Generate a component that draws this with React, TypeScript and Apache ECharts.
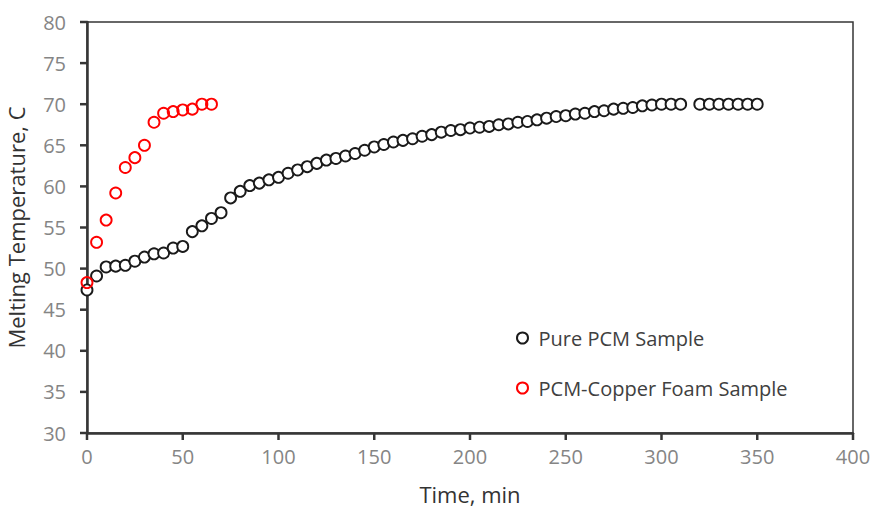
import React, { useEffect, useRef } from "react";
import * as echarts from "echarts";

const pureTimes = [
  0, 5, 10, 15, 20, 25, 30, 35, 40, 45, 50, 55, 60, 65, 70, 75, 80, 85, 90, 95,
  100, 105, 110, 115, 120, 125, 130, 135, 140, 145, 150, 155, 160, 165, 170, 175,
  180, 185, 190, 195, 200, 205, 210, 215, 220, 225, 230, 235, 240, 245, 250, 255,
  260, 265, 270, 275, 280, 285, 290, 295, 300, 305, 310, 320, 325, 330, 335, 340,
  345, 350,
];
const pureTemps = [
  47.4, 49.1, 50.2, 50.3, 50.4, 50.9, 51.4, 51.8, 51.9, 52.5, 52.7, 54.5, 55.2,
  56.1, 56.8, 58.6, 59.4, 60.1, 60.4, 60.8, 61.1, 61.6, 62.0, 62.4, 62.8, 63.2,
  63.4, 63.7, 64.0, 64.4, 64.8, 65.1, 65.4, 65.6, 65.8, 66.1, 66.3, 66.6, 66.8,
  66.9, 67.1, 67.2, 67.3, 67.5, 67.6, 67.8, 67.9, 68.1, 68.3, 68.5, 68.6, 68.8,
  68.9, 69.1, 69.2, 69.4, 69.5, 69.6, 69.8, 69.9, 70.0, 70.0, 70.0, 70.0, 70.0,
  70.0, 70.0, 70.0, 70.0, 70.0,
];
const foamTimes = [0, 5, 10, 15, 20, 25, 30, 35, 40, 45, 50, 55, 60, 65];
const foamTemps = [
  48.3, 53.2, 55.9, 59.2, 62.3, 63.5, 65.0, 67.8, 68.9, 69.1, 69.3, 69.4, 70.0,
  70.0,
];
const seriesNames = ["Pure PCM Sample", "PCM-Copper Foam Sample"];
const xTicks = [0, 50, 100, 150, 200, 250, 300, 350, 400];
const yTicks = [30, 35, 40, 45, 50, 55, 60, 65, 70, 75, 80];
const xMin = 0;
const yMin = 30;

export default function App() {
  const ref = useRef<HTMLDivElement>(null);
  useEffect(() => {
    document.body.style.margin = "0";
    const chart = echarts.init(ref.current!, null, { renderer: "svg" });
    const font = "'Open Sans', sans-serif";
    const lineColor = "#363636";
    const tickColor = "#363636";
    const tickLen = 7;
    const axisCommon = {
      axisLine: { show: true, onZero: false, lineStyle: { color: lineColor, width: 2.5 } },
      axisTick: { show: false },
      splitLine: { show: false },
      nameLocation: "middle" as const,
      nameTextStyle: { color: "#333333", fontSize: 22, fontFamily: font },
    };
    const labelStyle = { color: "#858585", fontSize: 20, fontFamily: font };
    chart.setOption({
      animation: false,
      backgroundColor: "#ffffff",
      grid: {
        left: 87,
        right: 21,
        top: 22,
        bottom: 78,
        outerBoundsMode: "none",
        containLabel: false,
        show: true,
        borderColor: lineColor,
        borderWidth: 1.5,
        backgroundColor: "transparent",
      },
      legend: {
        orient: "vertical",
        left: 511,
        top: 323,
        itemGap: 30,
        itemWidth: 22,
        itemHeight: 11,
        textStyle: { color: "#404040", fontSize: 20, fontFamily: font },
        data: seriesNames,
      },
      xAxis: {
        type: "value",
        min: 0,
        max: 400,
        interval: 50,
        name: "Time, min",
        nameGap: 50,
        ...axisCommon,
        axisLabel: { ...labelStyle, margin: 13 },
      },
      yAxis: {
        type: "value",
        min: 30,
        max: 80,
        interval: 5,
        name: "Melting Temperature, C",
        nameGap: 60,
        ...axisCommon,
        axisLabel: { ...labelStyle, margin: 21 },
      },
      series: [
        {
          name: "xTicks",
          type: "custom",
          silent: true,
          clip: false,
          data: xTicks.map((v) => [v, yMin]),
          renderItem: (_p: any, api: any) => {
            const c = api.coord([api.value(0), api.value(1)]);
            return {
              type: "rect",
              shape: { x: c[0] - 1.25, y: c[1], width: 2.5, height: tickLen },
              style: { fill: tickColor },
            };
          },
          z: 5,
        },
        {
          name: "yTicks",
          type: "custom",
          silent: true,
          clip: false,
          data: yTicks.map((v) => [xMin, v]),
          renderItem: (_p: any, api: any) => {
            const c = api.coord([api.value(0), api.value(1)]);
            return {
              type: "rect",
              shape: { x: c[0] - tickLen, y: c[1] - 1.25, width: tickLen, height: 2.5 },
              style: { fill: tickColor },
            };
          },
          z: 5,
        },
        {
          name: seriesNames[0],
          type: "scatter",
          symbol: "circle",
          symbolSize: 11,
          itemStyle: { color: "#ffffff", borderColor: "#1a1a1a", borderWidth: 1.9, opacity: 1 },
          data: pureTimes.map((t, i) => [t, pureTemps[i]]),
          z: 2,
        },
        {
          name: seriesNames[1],
          type: "scatter",
          symbol: "circle",
          symbolSize: 11,
          itemStyle: { color: "rgba(255,255,255,0)", borderColor: "#ff0000", borderWidth: 1.9, opacity: 1 },
          data: foamTimes.map((t, i) => [t, foamTemps[i]]),
          z: 3,
        },
      ],
    });
    return () => chart.dispose();
  }, []);
  return <div ref={ref} style={{ width: 874, height: 511 }} />;
}
